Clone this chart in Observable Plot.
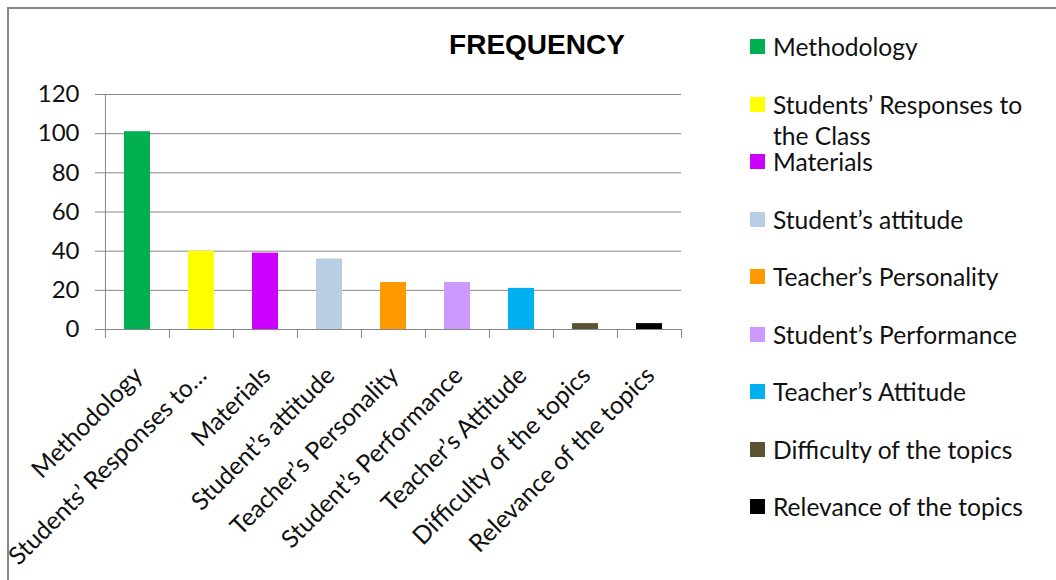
<!DOCTYPE html>
<html>
<head>
<meta charset="utf-8">
<script src="https://cdn.jsdelivr.net/npm/d3@7"></script>
<script src="https://cdn.jsdelivr.net/npm/@observablehq/plot@0.6"></script>
<style>
  html, body { margin: 0; padding: 0; background: #fff; }
  #wrap { position: relative; width: 1056px; height: 580px; overflow: hidden; background: #fff; }
  #frame { position: absolute; left: 7px; top: 7px; width: 1100px; height: 620px;
           border-top: 2px solid #868686; border-left: 2px solid #868686; box-sizing: border-box; }
  #chart { position: absolute; left: 0; top: 0; }
  #title { position: absolute; left: 437px; width: 200px; top: 29px; text-align: center;
           font: bold 28px "Liberation Sans", Arial, sans-serif; color: #000; }
  #legend { position: absolute; left: 750px; top: 0; font: 24.6px Lato, sans-serif; color: #111; }
  .item { position: absolute; left: 0; width: 300px; display: flex; align-items: flex-start; }
  .sw { width: 15px; height: 15px; flex: none; margin-top: 8px; }
  .lab { margin-left: 8px; line-height: 31px; width: 262px; }
</style>
</head>
<body>
<div id="wrap">
  <div id="frame"></div>
  <div id="chart"></div>
  <div id="title">FREQUENCY</div>
  <div id="legend"></div>
</div>
<script>
// Categories, their frequencies and fill colours
const categories = [
  "Methodology",
  "Students’ Responses to the Class",
  "Materials",
  "Student’s attitude",
  "Teacher’s Personality",
  "Student’s Performance",
  "Teacher’s Attitude",
  "Difficulty of the topics",
  "Relevance of the topics"
];
const tickLabels = [
  "Methodology",
  "Students’ Responses to…",
  "Materials",
  "Student’s attitude",
  "Teacher’s Personality",
  "Student’s Performance",
  "Teacher’s Attitude",
  "Difficulty of the topics",
  "Relevance of the topics"
];
const frequency = [101, 40, 39, 36, 24, 24, 21, 3, 3];
const colors = ["#00B050", "#FFFF00", "#CC00FF", "#B9CDE5", "#FF9900", "#CC99FF", "#00B0F0", "#5A5231", "#000000"];
const yTicks = [0, 20, 40, 60, 80, 100, 120];

const data = categories.map((c, i) => ({category: c, value: frequency[i]}));

const W = 1056, H = 580;
const mL = 104, mR = 375, mT = 94, mB = 251;
const step = (W - mL - mR) / categories.length;
const grid = "#868686";

const chart = Plot.plot({
  width: W,
  height: H,
  marginLeft: mL,
  marginRight: mR,
  marginTop: mT,
  marginBottom: mB,
  style: {fontFamily: "Lato, sans-serif", fontSize: "24px", color: "#111", background: "transparent", overflow: "visible"},
  x: {
    domain: categories,
    paddingInner: 0.6,
    paddingOuter: 0.3,
    axis: null
  },
  y: {domain: [0, 120], ticks: yTicks, tickSize: 0, tickPadding: 25, label: null},
  color: {domain: categories, range: colors},
  marks: [
    // horizontal gridlines, running a little past the value axis
    Plot.ruleY(yTicks, {y: d => d, stroke: grid, strokeWidth: 1, insetLeft: -9}),
    Plot.barY(data, {x: "category", y: "value", fill: "category"}),
    // value axis line
    Plot.ruleX([categories[0]], {x: d => d, dx: -step / 2, y1: 120, y2: 0, insetBottom: -9, stroke: grid}),
    // category boundary ticks
    Plot.ruleX(categories.slice(1), {x: d => d, dx: -step / 2, y1: 0, y2: 0, insetBottom: -9, stroke: grid}),
    Plot.ruleX([categories[categories.length - 1]], {x: d => d, dx: step / 2, y1: 0, y2: 0, insetBottom: -9, stroke: grid}),
    // slanted category labels
    Plot.axisX({
      tickSize: 0,
      tickRotate: -45,
      tickPadding: 28,
      dx: 1,
      dy: 14,
      fontSize: 24.6,
      tickFormat: d => tickLabels[categories.indexOf(d)],
      label: null
    })
  ]
});
document.getElementById("chart").appendChild(chart);

// legend on the right, one row per category
const legend = d3.select("#legend");
categories.forEach((c, i) => {
  const item = legend.append("div").attr("class", "item").style("top", (31 + i * 57.5) + "px");
  item.append("div").attr("class", "sw").style("background", colors[i]);
  item.append("div").attr("class", "lab").text(c);
});
</script>
</body>
</html>
